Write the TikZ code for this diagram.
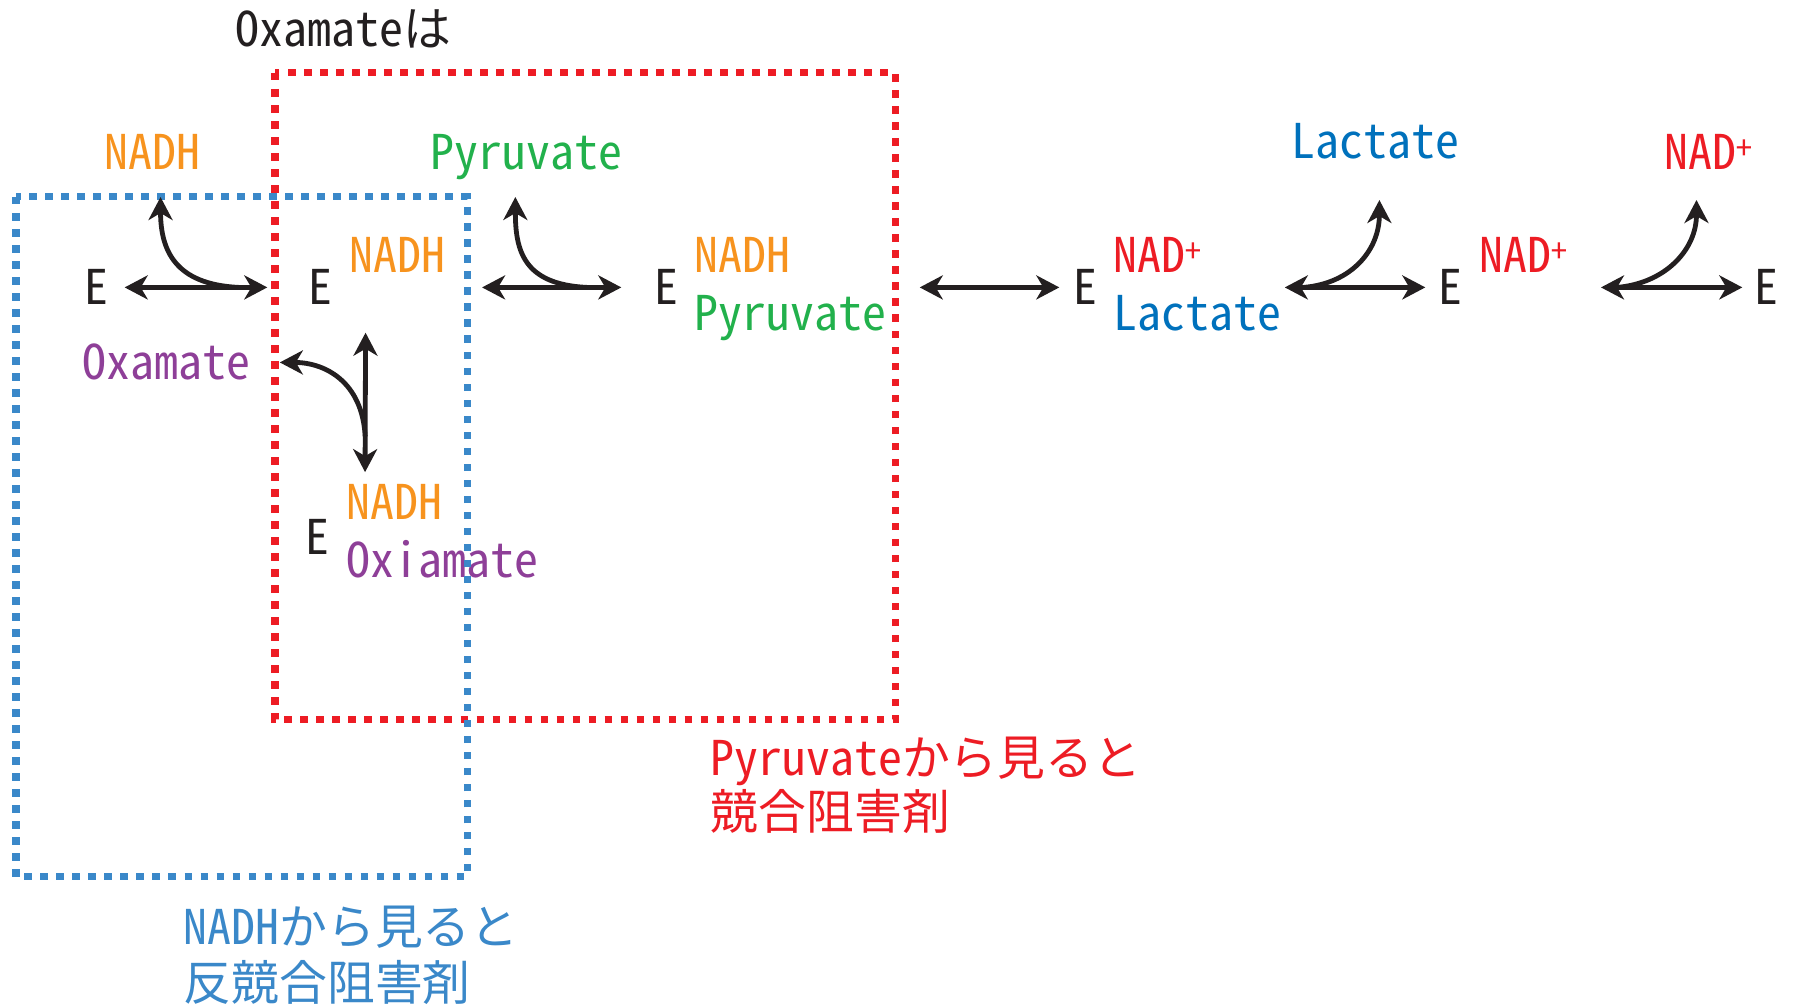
\documentclass[tikz,border=0pt]{standalone}
\usepackage{fontspec}
\newfontfamily\jpmono{Noto Sans Mono CJK JP}
\usetikzlibrary{arrows.meta}

\definecolor{ink}{HTML}{231F20}
\definecolor{nadhorange}{HTML}{F7931E}
\definecolor{pyrgreen}{HTML}{22B14C}
\definecolor{oxpurple}{HTML}{8E3F98}
\definecolor{lacblue}{HTML}{0071BC}
\definecolor{nadred}{HTML}{ED1C24}
\definecolor{boxblue}{HTML}{3A88C9}

\newcommand{\nadp}{NAD\raisebox{3pt}{\fontsize{9}{9}\selectfont +}}

\tikzset{chem/.tip={Stealth[length=0.23cm, width=0.24cm, inset=0.07cm]}}

\begin{document}
\begin{tikzpicture}[x=0.01cm, y=-0.01cm,
		lbl/.style={inner sep=0pt, anchor=base west, font=\jpmono\fontsize{13.6}{16}\selectfont},
		enz/.style={lbl, anchor=base, text=ink},
		dbl/.style={{chem}-{chem}, line width=0.048cm, draw=ink},
		side/.style={-{chem}, line width=0.048cm, draw=ink},
		dotbox/.style={line width=0.07cm, dash pattern=on 0.075cm off 0.085cm}]
	\useasboundingbox (0,0) rectangle (1796,1007);

	\draw[dotbox, nadred] (275,73) rectangle (895,720);

	\node[lbl, text=ink] (title) at (235,47) {Oxamateは};

	% substrates coming in and going out
	\node[lbl, text=nadhorange] (nadhin) at (104,170) {NADH};
	\node[lbl, text=pyrgreen] (pyrin) at (430,170) {Pyruvate};
	\node[lbl, text=lacblue] (lacout) at (1291,159) {Lactate};
	\node[lbl, text=nadred] (nadout) at (1664,170) {\nadp};
	\node[lbl, text=oxpurple] (oxa) at (82,380) {Oxamate};

	% enzyme forms
	\node[enz] (e1) at (96,305) {E};
	\node[enz] (e2) at (320,305) {E};
	\node[lbl, text=nadhorange] (e2nadh) at (349,273) {NADH};
	\node[enz] (e3) at (317,555) {E};
	\node[lbl, text=nadhorange] (e3nadh) at (346,520) {NADH};
	\node[lbl, text=oxpurple] (e3oxa) at (346,578) {Oxiamate};
	\node[enz] (e4) at (666,305) {E};
	\node[lbl, text=nadhorange] (e4nadh) at (694,273) {NADH};
	\node[lbl, text=pyrgreen] (e4pyr) at (694,331) {Pyruvate};
	\node[enz] (e5) at (1085,305) {E};
	\node[lbl, text=nadred] (e5nad) at (1113,273) {\nadp};
	\node[lbl, text=lacblue] (e5lac) at (1113,331) {Lactate};
	\node[enz] (e6) at (1450,305) {E};
	\node[lbl, text=nadred] (e6nad) at (1479,273) {\nadp};
	\node[enz] (e7) at (1766,305) {E};

	% notes under the boxes
	\node[lbl, text=nadred] (pyrnote) at (710,776) {Pyruvateから見ると};
	\node[lbl, text=nadred] (pyrnote2) at (710,830) {競合阻害剤};
	\node[lbl, text=boxblue] (nadhnote) at (183,945) {NADHから見ると};
	\node[lbl, text=boxblue] (nadhnote2) at (183,1001) {反競合阻害剤};

	\draw[dotbox, boxblue] (16,197) rectangle (467,877);

	% where the side arrows point
	\coordinate (t1) at ([xshift=0.08cm, yshift=-0.27cm]nadhin.base);
	\coordinate (t2) at ([xshift=-0.11cm, yshift=-0.27cm]pyrin.base);
	\coordinate (t3) at ([xshift=0.29cm]oxa.east);
	\coordinate (t4) at ([xshift=0.04cm, yshift=-0.41cm]lacout.base);
	\coordinate (t5) at ([xshift=-0.12cm, yshift=-0.30cm]nadout.base);

	% reaction steps
	\draw[dbl, shorten <=0.16cm, shorten >=0.4cm] (e1) -- coordinate[pos=0.655] (j1) (e2);
	\draw[side] (j1) .. controls +(-64,-3) and +(0,53) .. (t1);

	\draw[dbl, shorten <=0.36cm, shorten >=0.32cm] (e2 -| e2nadh.east) -- coordinate[pos=0.68] (j2) (e4);
	\draw[side] (j2) .. controls +(-64,-3) and +(0,53) .. (t2);

	\draw[dbl, shorten <=0.27cm, shorten >=0.12cm] ([xshift=0.33cm]e2.south east) -- coordinate[pos=0.733] (j3) ([xshift=0.19cm]e3nadh.north west);
	\draw[side] (j3) .. controls +(-3,-55) and +(45,0) .. (t3);

	\draw[dbl, shorten <=0.33cm, shorten >=0.13cm] (e4 -| e4pyr.east) -- (e5);

	\draw[dbl, shorten <=0.03cm, shorten >=0.12cm] (e5 -| e5lac.east) -- coordinate[pos=0.14] (j4) (e6);
	\draw[side] (j4) .. controls +(48,-4) and +(0,50) .. (t4);

	\draw[dbl, shorten <=0.33cm, shorten >=0.11cm] (e6 -| e6nad.east) -- coordinate[pos=0.264] (j5) (e7);
	\draw[side] (j5) .. controls +(48,-4) and +(0,50) .. (t5);
\end{tikzpicture}
\end{document}
